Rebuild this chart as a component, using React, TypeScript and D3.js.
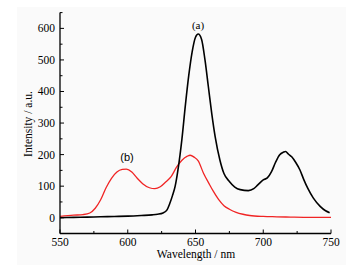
import React from "react";
import * as d3 from "d3";

const blackWl = [550, 560, 570, 580, 590, 600, 610, 618, 622, 626, 629, 631, 633, 635, 637, 640, 642.5, 645, 647.5, 650, 652, 654.5, 657, 659.5, 662, 664.5, 668, 671, 675, 679, 683, 689, 693, 696, 700, 703, 706, 709, 712, 715, 716.5, 718.5, 721, 724, 727, 730, 733, 737, 742, 746, 749];
const blackVal = [0, 1, 2, 3, 4, 5, 7, 9, 11, 15, 25, 45, 70, 100, 150, 250, 355, 450, 525, 572, 582, 565, 500, 415, 330, 257, 183, 140, 115, 97, 89, 86, 92, 104, 120, 126, 145, 175, 199, 208, 210, 202, 193, 175, 152, 120, 92, 62, 36, 22, 16];

const redWl = [550, 560, 567, 572, 576, 580, 584, 588, 592, 596, 599, 603, 607, 611, 616, 620, 624, 628, 632, 636, 640, 644, 646, 649, 652, 656, 660, 663, 667, 671, 675, 680, 685, 690, 700, 710, 720, 735, 750];
const redVal = [4, 8, 10, 15, 30, 57, 95, 125, 145, 153, 154, 145, 125, 108, 95, 92, 98, 113, 130, 160, 182, 195, 198, 192, 180, 140, 108, 85, 58, 38, 27, 17, 11, 7, 4, 3, 2, 1, 1];

const xMajor = [550, 600, 650, 700, 750];
const xMinor = [575, 625, 675, 725];
const yMajor = [0, 100, 200, 300, 400, 500, 600];
const yMinor = [-50, 50, 150, 250, 350, 450, 550, 650];

const xTitle = "Wavelength / nm";
const yTitle = "Intensity / a.u.";

export default function App() {
  const W = 346, H = 267;
  const left = 60, right = 331, top = 12.6, bottom = 233.5;
  const x = d3.scaleLinear().domain([550, 750]).range([left, right]);
  const y = d3.scaleLinear().domain([-50, 650]).range([bottom, top]);
  const line = d3.line<[number, number]>().x(d => x(d[0])).y(d => y(d[1])).curve(d3.curveMonotoneX);
  const blackPts = blackWl.map((w, i) => [w, blackVal[i]] as [number, number]);
  const redPts = redWl.map((w, i) => [w, redVal[i]] as [number, number]);
  const serif = "'Liberation Serif', 'Times New Roman', serif";
  return (
    <svg width={W} height={H} style={{ position: "absolute", left: 0, top: 0 }} fontFamily={serif}>
      <rect x={0} y={0} width={W} height={H} fill="#ffffff" />
      <rect x={17} y={7} width={329} height={258} fill="#fafafa" />
      <path d={line(redPts) || ""} fill="none" stroke="#f02424" strokeWidth={1.3} />
      <path d={line(blackPts) || ""} fill="none" stroke="#000" strokeWidth={1.6} />
      <line x1={left} x2={left} y1={top} y2={bottom} stroke="#000" strokeWidth={1.3} />
      <line x1={left} x2={right} y1={bottom} y2={bottom} stroke="#000" strokeWidth={1.3} />
      {xMajor.map(v => (
        <g key={"xm" + v}>
          <line x1={x(v)} x2={x(v)} y1={bottom} y2={bottom - 4} stroke="#000" strokeWidth={1} />
          <text x={x(v)} y={246} textAnchor="middle" fontSize={11.5}>{v}</text>
        </g>
      ))}
      {xMinor.map(v => (
        <line key={"xn" + v} x1={x(v)} x2={x(v)} y1={bottom} y2={bottom - 2.5} stroke="#000" strokeWidth={1} />
      ))}
      {yMajor.map(v => (
        <g key={"ym" + v}>
          <line x1={left} x2={left + 4} y1={y(v)} y2={y(v)} stroke="#000" strokeWidth={1} />
          <text x={55} y={y(v) + 4} textAnchor="end" fontSize={11.5}>{v}</text>
        </g>
      ))}
      {yMinor.map(v => (
        <line key={"yn" + v} x1={left} x2={left + 2.5} y1={y(v)} y2={y(v)} stroke="#000" strokeWidth={1} />
      ))}
      <text x={196} y={258} textAnchor="middle" fontSize={11.5}>{xTitle}</text>
      <text transform="translate(32,124) rotate(-90)" textAnchor="middle" fontSize={11.5}>{yTitle}</text>
      <text x={198} y={28.5} textAnchor="middle" fontSize={11}>(a)</text>
      <text x={127} y={161} textAnchor="middle" fontSize={11} fontFamily="'Liberation Sans', Arial, sans-serif">(b)</text>
    </svg>
  );
}
